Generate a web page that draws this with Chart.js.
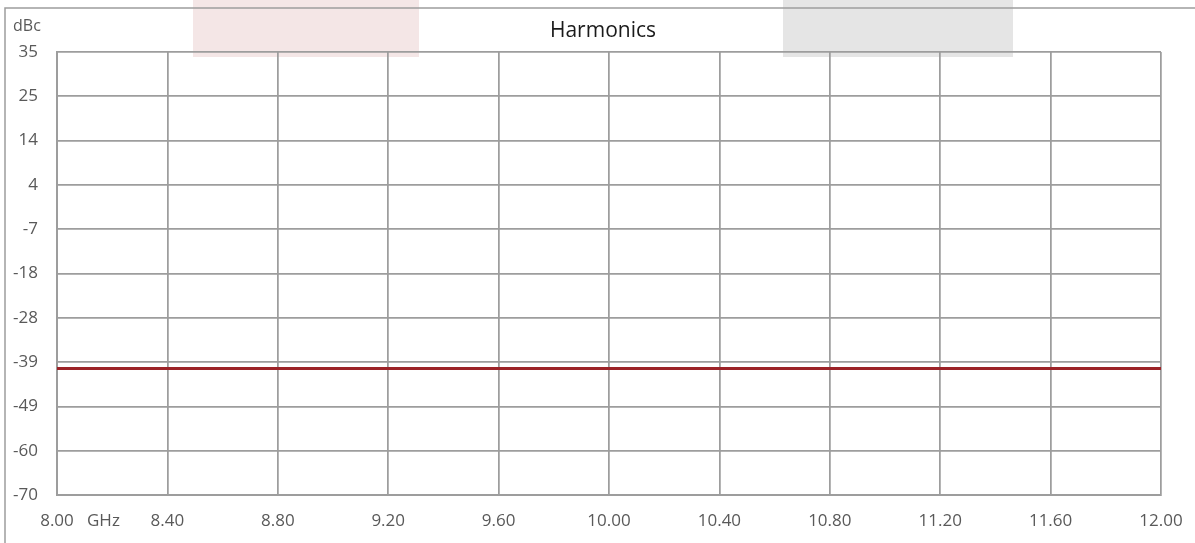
<!DOCTYPE html>
<html>
<head>
<meta charset="utf-8">
<script src="https://cdn.jsdelivr.net/npm/chart.js@4"></script>
<style>
  html, body { margin: 0; padding: 0; background: #fff; }
  #wrap { width: 1195px; height: 543px; }
</style>
</head>
<body>
<div id="wrap"><canvas id="chart" width="1195" height="543"></canvas></div>
<script>
// ─── DADOS ───
var freqGHz = [8.0, 8.4, 8.8, 9.2, 9.6, 10.0, 10.4, 10.8, 11.2, 11.6, 12.0];
var harmonicsDbc = [-40, -40, -40, -40, -40, -40, -40, -40, -40, -40, -40];
var xTickValues = [8.0, 8.4, 8.8, 9.2, 9.6, 10.0, 10.4, 10.8, 11.2, 11.6, 12.0];
var yTickValues = [-70, -59.5, -49, -38.5, -28, -17.5, -7, 3.5, 14, 24.5, 35];
var yTickLabels = ['-70', '-60', '-49', '-39', '-28', '-18', '-7', '4', '14', '25', '35'];

var gridCor = '#9d9d9d';
var textoCor = '#595959';
var fonte = "'Open Sans', 'Noto Sans', sans-serif";

// moldura, caixas de fundo, título e textos extras (dBc / GHz)
var extrasPlugin = {
  id: 'extras',
  beforeDraw: function(chart) {
    var ctx = chart.ctx;
    ctx.save();
    ctx.fillStyle = '#f4e6e6';
    ctx.fillRect(193, 0, 226, 57);
    ctx.fillStyle = '#e5e5e5';
    ctx.fillRect(783, 0, 230, 57);
    ctx.strokeStyle = gridCor;
    ctx.lineWidth = 1.5;
    ctx.beginPath();
    ctx.moveTo(5, 543); ctx.lineTo(5, 8); ctx.lineTo(1195, 8);
    ctx.stroke();
    ctx.restore();
  },
  afterDraw: function(chart) {
    var ctx = chart.ctx;
    ctx.save();
    ctx.textBaseline = 'middle';
    ctx.fillStyle = '#1a1a1a';
    ctx.font = '21px ' + fonte;
    ctx.textAlign = 'center';
    ctx.fillText('Harmonics', 603, 31);
    ctx.fillStyle = textoCor;
    ctx.font = '16px ' + fonte;
    ctx.textAlign = 'left';
    ctx.fillText('dBc', 13, 26);
    ctx.font = '17px ' + fonte;
    ctx.fillText('GHz', 87, 521);
    ctx.restore();
  }
};

var ctx = document.getElementById('chart').getContext('2d');
new Chart(ctx, {
  type: 'line',
  data: {
    datasets: [{
      label: 'Harmonics',
      data: freqGHz.map(function(f, i) { return { x: f, y: harmonicsDbc[i] }; }),
      borderColor: '#9c2328',
      borderWidth: 3,
      pointRadius: 0,
      fill: false,
      tension: 0
    }]
  },
  options: {
    responsive: false,
    animation: false,
    devicePixelRatio: 1,
    layout: { padding: { left: 0, right: 34, top: 52, bottom: 0 } },
    plugins: {
      legend: { display: false },
      tooltip: { enabled: false },
      title: { display: false }
    },
    scales: {
      x: {
        type: 'linear',
        min: 8, max: 12,
        afterBuildTicks: function(s) { s.ticks = xTickValues.map(function(v) { return { value: v }; }); },
        afterFit: function(s) { s.height = 48; s.paddingLeft = 0; s.paddingRight = 0; },
        ticks: {
          color: textoCor,
          font: { family: fonte, size: 17 },
          padding: 16,
          maxRotation: 0,
          autoSkip: false,
          callback: function(v) { return Number(v).toFixed(2); }
        },
        grid: { color: gridCor, lineWidth: 1.75, drawTicks: false },
        border: { color: gridCor, width: 2 }
      },
      y: {
        min: -70, max: 35,
        afterBuildTicks: function(s) { s.ticks = yTickValues.map(function(v) { return { value: v }; }); },
        afterFit: function(s) { s.width = 57; s.paddingTop = 0; s.paddingBottom = 0; },
        ticks: {
          color: textoCor,
          font: { family: fonte, size: 17 },
          padding: 19,
          autoSkip: false,
          callback: function(v, i) { return yTickLabels[i]; }
        },
        grid: { color: gridCor, lineWidth: 1.75, drawTicks: false },
        border: { color: gridCor, width: 2 }
      }
    }
  },
  plugins: [extrasPlugin]
});
</script>
</body>
</html>
